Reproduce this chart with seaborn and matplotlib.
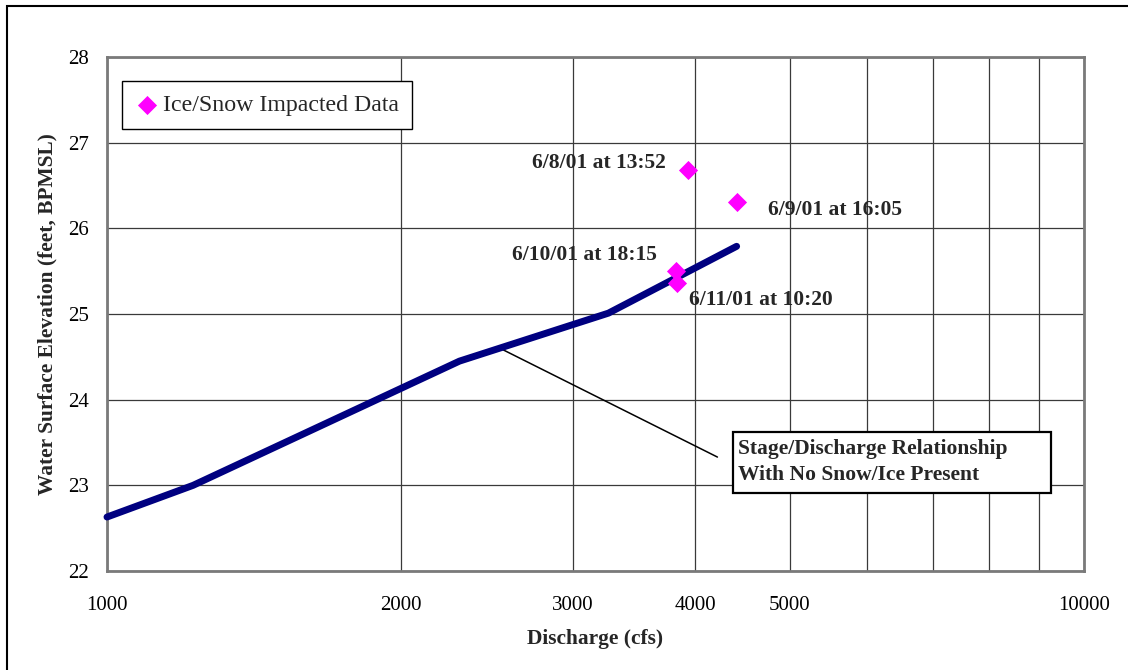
import matplotlib
matplotlib.use('Agg')
import matplotlib.pyplot as plt
import seaborn as sns
import pandas as pd
from matplotlib.patches import Rectangle
from matplotlib.ticker import NullLocator, FixedLocator, FixedFormatter

# ---- data ----
curve_q = [1000, 1225, 2295, 3260, 4410]
curve_wse = [22.63, 23.0, 24.45, 25.01, 25.79]

ice_q = [3930, 4410, 3820, 3830]
ice_wse = [26.68, 26.31, 25.50, 25.36]
ice_labels = ["6/8/01 at 13:52", "6/9/01 at 16:05", "6/10/01 at 18:15", "6/11/01 at 10:20"]

x_ticks = [1000, 2000, 3000, 4000, 5000, 6000, 7000, 8000, 9000, 10000]
x_tick_labels = ["1000", "2000", "3000", "4000", "5000", "", "", "", "", "10000"]
y_ticks = [22, 23, 24, 25, 26, 27, 28]

legend_label = "Ice/Snow Impacted Data"
curve_note = "Stage/Discharge Relationship\nWith No Snow/Ice Present"
leader_q = [2525, 4215]
leader_wse = [24.60, 23.33]

# ---- style ----
sns.set_style("white")
plt.rcParams['font.family'] = ['Liberation Serif', 'DejaVu Serif']

fig = plt.figure(figsize=(11.28, 6.70), dpi=100)
ax = fig.add_axes([107/1128, 1 - 571/670, 977/1128, 514/670])

curve_df = pd.DataFrame({"q": curve_q, "wse": curve_wse})
ice_df = pd.DataFrame({"q": ice_q, "wse": ice_wse})

sns.lineplot(data=curve_df, x="q", y="wse", ax=ax, color="#000080", linewidth=5.0,
             sort=False, solid_capstyle="round", solid_joinstyle="round", zorder=3)
ax.lines[-1].set_clip_on(False)
sns.scatterplot(data=ice_df, x="q", y="wse", ax=ax, color="#FF00FF", marker="D",
                s=95, edgecolor="#FF00FF", linewidth=0, label=legend_label, zorder=4)

ax.set_xscale("log")
ax.set_xlim(1000, 10000)
ax.set_ylim(22, 28)
ax.xaxis.set_major_locator(FixedLocator(x_ticks))
ax.xaxis.set_major_formatter(FixedFormatter(x_tick_labels))
ax.xaxis.set_minor_locator(NullLocator())
ax.set_yticks(y_ticks)
ax.set_yticklabels([str(v) for v in y_ticks])

ax.grid(True, which="major", color="#3a3a3a", linewidth=0.9)
ax.set_axisbelow(True)
for s in ax.spines.values():
    s.set_color("#7a7a7a")
    s.set_linewidth(2.0)
    s.set_visible(True)

ax.tick_params(axis="both", which="major", direction="out", length=5, width=1,
               color="black", labelsize=15.0, labelcolor="black")
ax.tick_params(axis="y", pad=8)
ax.tick_params(axis="x", pad=13)

ax.set_xlabel("Discharge (cfs)", fontsize=15.4, fontweight="bold")
ax.set_ylabel("Water Surface Elevation (feet, BPMSL)", fontsize=15.4, fontweight="bold")
ax.xaxis.set_label_coords(0.5, -0.113)
ax.yaxis.set_label_coords(-0.051, 0.5)

# point labels
offsets = [(-22, 2, "right"), (31, -13, "left"), (-19, 11, "right"), (12, -22, "left")]
for q, w, lab, (dx, dy, ha) in zip(ice_q, ice_wse, ice_labels, offsets):
    ax.annotate(lab, xy=(q, w), xytext=(dx, dy), textcoords="offset pixels",
                ha=ha, va="baseline", fontsize=15.5, fontweight="bold", zorder=5)

# leader line and note box
ax.plot(leader_q, leader_wse, color="black", linewidth=1.1, zorder=2)
box_x0, box_y0 = (733 - 107) / 977, (571 - 493) / 514
box_w, box_h = (1051 - 733) / 977, (493 - 432) / 514
ax.add_patch(Rectangle((box_x0, box_y0), box_w, box_h, transform=ax.transAxes,
                       facecolor="white", edgecolor="black", linewidth=1.6, zorder=6))
ax.text((738 - 107) / 977, (571 - 462) / 514, curve_note, transform=ax.transAxes,
        ha="left", va="center", fontsize=15.5, fontweight="bold", linespacing=1.45, zorder=7)

leg = ax.legend(loc="upper left", bbox_to_anchor=((122 - 107) / 977, (571 - 81) / 514),
                borderaxespad=0, fontsize=17.2, frameon=True, fancybox=False,
                edgecolor="black", borderpad=0.55, handlelength=1.0, handletextpad=0.15,
                markerscale=1.0)
leg.get_frame().set_linewidth(1.0)
leg.get_frame().set_alpha(1)

# figure border (top and left visible)
fig.add_artist(Rectangle((7/1128, -0.1), 2, 1 - 6/670 + 0.1, transform=fig.transFigure,
                         fill=False, edgecolor="black", linewidth=1.5))

fig.savefig("out.png", dpi=100, facecolor="white")
